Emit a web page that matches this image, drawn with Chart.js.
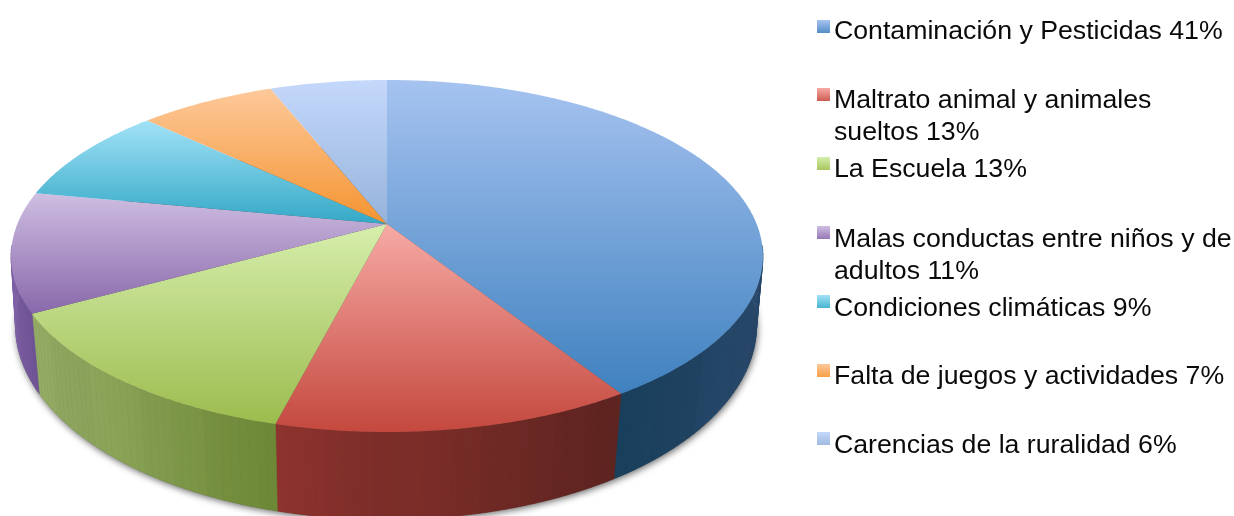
<!DOCTYPE html>
<html lang="es">
<head>
<meta charset="utf-8">
<title>Pie 3D</title>
<style>
html,body{margin:0;padding:0;background:#fff;width:1234px;height:516px;overflow:hidden}
#wrap{position:absolute;left:0;top:0;width:1234px;height:516px}
</style>
<script src="https://cdn.jsdelivr.net/npm/chart.js@4"></script>
</head>
<body>
<div id="wrap"><canvas id="c" width="1234" height="516"></canvas></div>
<script>
const categories = ['Contaminación y Pesticidas','Maltrato animal y animales sueltos','La Escuela','Malas conductas entre niños y de adultos','Condiciones climáticas','Falta de juegos y actividades','Carencias de la ruralidad'];
const values = [41,13,13,11,9,7,6];

// Top-face gradient, light → dark
const topLight = ['#a6c3f0','#f7aaa5','#d6eeac','#cfbee2','#a2e2f7','#fdc99b','#c4d8fb'];
const topDark  = ['#3f81bf','#c4483e','#9cbc4e','#8868aa','#33a8c6','#f59430','#96b3db'];
// Wall colours, left → right
const wallLeft  = ['#173e5a','#8c322d','#93aa64','#7d5fa4','#2a8aa0','#c07020','#7088b0'];
const wallRight = ['#28476a','#5f2420','#6e8a36','#6f5498','#2a8aa0','#c07020','#7088b0'];
const legendY = [20,88,157,226,295,364,432];
const lineY = [[39],[108,140],[177],[247,279],[316],[384],[453]];

const persp = 64/352, kx = 2.567, depthY = 74/144, scaleYb = 1.065, scaleXb = 0.974;

function hexToRgb(h){return [1,3,5].map(i=>parseInt(h.substr(i,2),16));}
function mix(a,b,t,f){const A=hexToRgb(a),B=hexToRgb(b);return 'rgb('+A.map((v,i)=>Math.round((v+(B[i]-v)*t)*f)).join(',')+')';}

const pie3d = {
  id:'pie3d',
  beforeDatasetDraw(chart){
    const ctx=chart.ctx, arcs=chart.getDatasetMeta(0).data;
    const r=arcs[0].outerRadius, cx=arcs[0].x, cy=arcs[0].y;
    const top=a=>{const th=a+Math.PI/2,u=Math.sin(th),v=Math.cos(th),d=1+persp*v;
      return [cx+r*kx*u/d, cy-r*(1+persp)*v/d];};
    const bot=a=>{const p=top(a),u=Math.sin(a+Math.PI/2);
      return [cx-1+(p[0]-cx)*scaleXb+Math.sign(u)*5*Math.pow(Math.abs(u),12), cy+r*depthY+(p[1]-cy)*scaleYb];};
    ctx.save();
    // Soft shadow under the base
    ctx.save();
    ctx.shadowColor='rgba(0,0,0,0.6)';ctx.shadowBlur=7;ctx.shadowOffsetY=2;ctx.shadowOffsetX=1;
    ctx.fillStyle='#555';ctx.beginPath();
    for(let i=0;i<=360;i++){const p=bot(-Math.PI/2+i*Math.PI/180);i?ctx.lineTo(p[0],p[1]):ctx.moveTo(p[0],p[1]);}
    ctx.closePath();ctx.fill();ctx.restore();
    // Walls: only the part of the rim facing the viewer
    const facing=p=>p[1]>cy+25;
    arcs.forEach((arc,i)=>{
      const s=arc.startAngle,e=arc.endAngle,n=Math.max(2,Math.round((e-s)/0.022));
      let minx=1e9,maxx=-1e9;
      for(let k=0;k<=n;k++){const p=top(s+(e-s)*k/n);if(facing(p)){minx=Math.min(minx,p[0]);maxx=Math.max(maxx,p[0]);}}
      for(let k=0;k<n;k++){
        const a0=s+(e-s)*k/n,a1=s+(e-s)*(k+1)/n;
        const p0=top(a0),p1=top(a1);
        if(!facing(p0)&&!facing(p1))continue;
        const q1=bot(a1),q0=bot(a0);
        const t=Math.min(1,Math.max(0,(((p0[0]+p1[0])/2)-minx)/Math.max(1,maxx-minx)));
        const band=Math.floor(k/8);
        const f=1+((band*7)%5-2)*0.009;
        const col=mix(wallLeft[i],wallRight[i],t,f);
        ctx.fillStyle=col;ctx.strokeStyle=col;ctx.lineWidth=0.6;
        ctx.beginPath();ctx.moveTo(p0[0],p0[1]);ctx.lineTo(p1[0],p1[1]);ctx.lineTo(q1[0],q1[1]);ctx.lineTo(q0[0],q0[1]);ctx.closePath();ctx.fill();ctx.stroke();
      }
    });
    // Top faces
    arcs.forEach((arc,i)=>{
      const s=arc.startAngle,e=arc.endAngle,n=Math.max(8,Math.round((e-s)/0.01));
      let miny=cy,maxy=cy;
      ctx.beginPath();ctx.moveTo(cx,cy);
      for(let k=0;k<=n;k++){const p=top(s+(e-s)*k/n);ctx.lineTo(p[0],p[1]);miny=Math.min(miny,p[1]);maxy=Math.max(maxy,p[1]);}
      ctx.closePath();
      const g=ctx.createLinearGradient(0,miny,0,maxy);
      g.addColorStop(0,topLight[i]);g.addColorStop(1,topDark[i]);
      ctx.fillStyle=g;ctx.fill();
    });
    ctx.restore();
    return false;
  },
  afterDraw(chart){
    const ctx=chart.ctx;
    ctx.save();
    ctx.font='26.7px "Liberation Sans", Arial, sans-serif';
    ctx.textBaseline='alphabetic';ctx.textAlign='left';
    categories.forEach((name,i)=>{
      const y=legendY[i];
      const g=ctx.createLinearGradient(0,y,0,y+13);
      g.addColorStop(0,topLight[i]);g.addColorStop(1,mix(topLight[i],topDark[i],0.8,1));
      ctx.fillStyle=g;ctx.fillRect(817,y,13,13);
      const words=(name+' '+values[i]+'%').split(' ');
      const lines=[];let cur='';
      words.forEach(w=>{const t=cur?cur+' '+w:w;
        if(ctx.measureText(t).width>400&&cur){lines.push(cur);cur=w;}else cur=t;});
      lines.push(cur);
      ctx.fillStyle='#0a0a0a';
      lines.forEach((l,j)=>ctx.fillText(l,834,lineY[i][j]));
    });
    ctx.restore();
  }
};

new Chart(document.getElementById('c'),{
  type:'pie',
  data:{labels:categories,datasets:[{data:values,backgroundColor:topDark,borderWidth:0}]},
  options:{
    responsive:false,animation:false,
    layout:{padding:{left:243,right:703,top:80,bottom:148}},
    plugins:{legend:{display:false},tooltip:{enabled:false}}
  },
  plugins:[pie3d]
});
</script>
</body>
</html>
